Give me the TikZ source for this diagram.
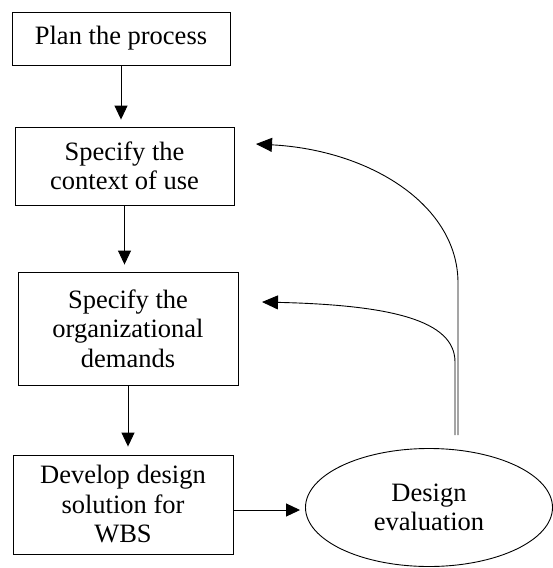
\documentclass[tikz,border=0pt]{standalone}
\usepackage{fontspec}
\setmainfont{Liberation Serif}
\usetikzlibrary{arrows.meta,shapes.geometric}
\begin{document}
\begin{tikzpicture}[x=1pt,y=-1pt,
  every node/.style={font=\rmfamily\fontsize{26.5}{29.5}\selectfont, align=center, inner sep=0pt},
  box/.style={draw, line width=0.9pt},
  arr/.style={line width=0.9pt, -{Triangle[length=14pt,width=13pt]}},
  back/.style={line width=0.9pt, -{Triangle[length=16pt,width=14pt]}}]
\useasboundingbox (0,0) rectangle (553,568);
\node[box, minimum width=218pt, minimum height=53pt] (b1) at (121,38.5) {Plan the process};
\node[box, minimum width=219pt, minimum height=78pt] (b2) at (124.5,166) {Specify the\\context of use};
\node[box, minimum width=220pt, minimum height=113pt] (b3) at (128,328.5) {Specify the\\organizational\\demands};
\node[box, minimum width=220pt, minimum height=99pt] (b4) at (123,504.5) {Develop design\\solution for\\WBS};
\node[draw, ellipse, line width=0.9pt, minimum width=247pt, minimum height=118pt] (ev) at (429,507.5) {Design\\evaluation};
\draw[arr, shorten >=7pt] (b1) -- (b1 |- b2.north);
\draw[arr, shorten >=7pt] (b2) -- (b2 |- b3.north);
\draw[arr, shorten >=8pt] (b3) -- (b3 |- b4.north);
\coordinate (a4) at ([yshift=-5.5pt]b4.east);
\draw[arr, shorten >=5pt] (a4) -- (a4 -| ev.west);
\coordinate (s1) at (458,435);
\coordinate (s2) at (455,435);
\coordinate (t1) at (256,144);
\coordinate (t2) at (262,302);
\draw[back] (s1) -- (458,283) .. controls (458,205) and (370,150) .. (t1);
\draw[back] (s2) -- (455,362) .. controls (455,320) and (390,305) .. (t2);
\end{tikzpicture}
\end{document}
